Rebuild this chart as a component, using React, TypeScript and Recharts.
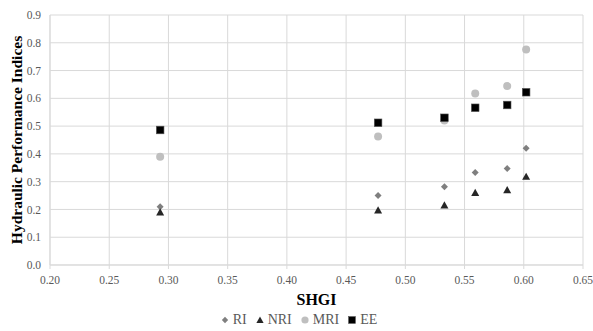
import React from "react"
import {
  ScatterChart,
  Scatter,
  XAxis,
  YAxis,
  CartesianGrid,
  Legend,
} from "recharts"

const shgi = [0.293, 0.477, 0.533, 0.559, 0.586, 0.602]
const riValues = [0.21, 0.25, 0.282, 0.333, 0.347, 0.42]
const nriValues = [0.19, 0.197, 0.215, 0.26, 0.27, 0.318]
const mriValues = [0.39, 0.463, 0.52, 0.617, 0.644, 0.776]
const eeValues = [0.486, 0.512, 0.53, 0.566, 0.576, 0.622]

const xTicks = [0.2, 0.25, 0.3, 0.35, 0.4, 0.45, 0.5, 0.55, 0.6, 0.65]
const yTicks = [0, 0.1, 0.2, 0.3, 0.4, 0.5, 0.6, 0.7, 0.8, 0.9]

const FONT = "'Liberation Serif', 'Times New Roman', serif"
const GRID = "#d9d9d9"
const TICK_TEXT = "#595959"

const toPoints = (values: number[]) => shgi.map((x, i) => ({ x, y: values[i] }))

type Kind = "diamond" | "triangle" | "circle" | "square"

const series: { name: string; kind: Kind; color: string; values: number[] }[] = [
  { name: "RI", kind: "diamond", color: "#7f7f7f", values: riValues },
  { name: "NRI", kind: "triangle", color: "#262626", values: nriValues },
  { name: "MRI", kind: "circle", color: "#bfbfbf", values: mriValues },
  { name: "EE", kind: "square", color: "#000000", values: eeValues },
]

function Marker({ kind, color, cx, cy, s = 1 }: { kind: Kind; color: string; cx: number; cy: number; s?: number }) {
  if (kind === "diamond") {
    const r = 3.5 * s
    return <polygon points={`${cx},${cy - r} ${cx + r},${cy} ${cx},${cy + r} ${cx - r},${cy}`} fill={color} />
  }
  if (kind === "triangle") {
    const r = 4 * s
    return <polygon points={`${cx},${cy - r} ${cx + r},${cy + r * 0.8} ${cx - r},${cy + r * 0.8}`} fill={color} />
  }
  if (kind === "circle") {
    return <circle cx={cx} cy={cy} r={4 * s} fill={color} />
  }
  const h = 3.8 * s
  return <rect x={cx - h} y={cy - h} width={h * 2} height={h * 2} fill={color} stroke="#555" strokeWidth={0.6} />
}

function LegendContent() {
  return (
    <div
      style={{
        height: 22,
        display: "flex",
        justifyContent: "center",
        alignItems: "center",
        fontFamily: FONT,
        fontSize: 14,
        color: TICK_TEXT,
        paddingLeft: 22,
      }}
    >
      {series.map((s) => (
        <span key={s.name} style={{ display: "inline-flex", alignItems: "center", marginRight: 8 }}>
          <svg width={10} height={10} style={{ marginRight: 3 }}>
            <Marker kind={s.kind} color={s.color} cx={5} cy={5} s={0.9} />
          </svg>
          {s.name}
        </span>
      ))}
    </div>
  )
}

function YTitle({ viewBox }: any) {
  const cy = viewBox.y + viewBox.height / 2
  return (
    <text
      x={16}
      y={cy}
      transform={`rotate(-90 16 ${cy})`}
      textAnchor="middle"
      dominantBaseline="central"
      fontFamily={FONT}
      fontWeight="bold"
      fontSize={15.5}
      fill="#000"
    >
      Hydraulic Performance Indices
    </text>
  )
}

export default function App() {
  return (
    <div style={{ position: "absolute", left: 0, top: 0, background: "#fff" }}>
      <ScatterChart width={593} height={331} margin={{ top: 15, right: 10, bottom: 0, left: 0 }}>
        <CartesianGrid stroke={GRID} strokeWidth={1} />
        <XAxis
          type="number"
          dataKey="x"
          domain={[0.2, 0.65]}
          ticks={xTicks}
          tickFormatter={(v: number) => v.toFixed(2)}
          height={44}
          tick={{ fontFamily: FONT, fontSize: 11.5, fill: TICK_TEXT }}
          axisLine={{ stroke: GRID }}
          tickLine={{ stroke: GRID }}
          tickSize={4}
          tickMargin={7}
          label={{
            value: "SHGI",
            position: "insideBottom",
            offset: 4,
            style: { fontFamily: FONT, fontSize: 16, fontWeight: "bold", fill: "#000" },
          }}
        />
        <YAxis
          type="number"
          dataKey="y"
          domain={[0, 0.9]}
          ticks={yTicks}
          tickFormatter={(v: number) => v.toFixed(1)}
          width={50}
          tick={{ fontFamily: FONT, fontSize: 11.5, fill: TICK_TEXT }}
          axisLine={{ stroke: GRID }}
          tickLine={false}
          tickSize={6}
          tickMargin={3}
          label={{ content: YTitle }}
        />
        <Legend verticalAlign="bottom" height={22} content={LegendContent} />
        {series.map((s) => (
          <Scatter
            key={s.name}
            name={s.name}
            data={toPoints(s.values)}
            isAnimationActive={false}
            shape={(p: any) => <Marker kind={s.kind} color={s.color} cx={p.cx} cy={p.cy} />}
          />
        ))}
      </ScatterChart>
    </div>
  )
}
